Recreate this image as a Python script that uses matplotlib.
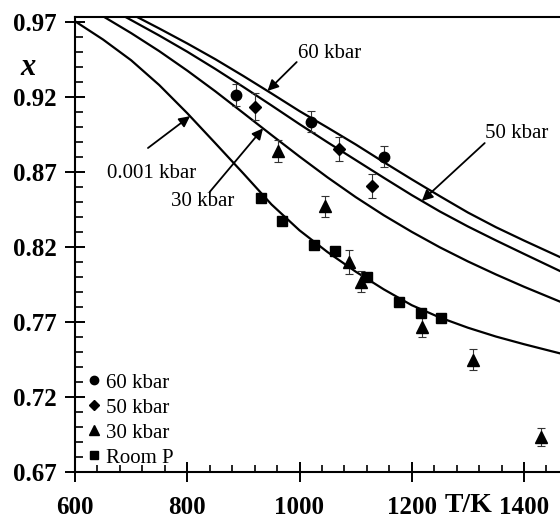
import numpy as np
import matplotlib
matplotlib.use("Agg")
import matplotlib.pyplot as plt
from matplotlib.ticker import MultipleLocator, FixedLocator

# model curves x(T) at four pressures
T_001 = [600, 650, 700, 750, 800, 850, 900, 950, 1000, 1050, 1100, 1150, 1200,
         1250, 1300, 1350, 1400, 1464]
x_001 = [0.9705, 0.9583, 0.9445, 0.928, 0.9092, 0.8892, 0.869, 0.8484, 0.8311,
         0.8166, 0.8036, 0.7918, 0.7812, 0.773, 0.7662, 0.7603, 0.7552, 0.7491]

T_30 = [640, 650, 700, 750, 800, 850, 900, 950, 1000, 1050, 1100, 1150, 1200,
        1250, 1300, 1350, 1400, 1464]
x_30 = [0.9759, 0.9738, 0.9626, 0.9506, 0.9376, 0.9238, 0.9093, 0.8947, 0.8803,
        0.8664, 0.8533, 0.8412, 0.8301, 0.8198, 0.8104, 0.8017, 0.7935, 0.7836]

T_50 = [680, 700, 750, 800, 850, 900, 950, 1000, 1050, 1100, 1150, 1200, 1250,
        1300, 1350, 1400, 1464]
x_50 = [0.9754, 0.9713, 0.961, 0.9502, 0.9387, 0.9267, 0.9144, 0.9019, 0.8898,
        0.878, 0.8662, 0.8546, 0.8437, 0.8337, 0.8244, 0.8154, 0.804]

T_60 = [700, 750, 800, 850, 900, 950, 1000, 1050, 1100, 1150, 1200, 1250, 1300,
        1350, 1400, 1464]
x_60 = [0.9754, 0.9657, 0.9557, 0.9452, 0.934, 0.9224, 0.9106, 0.8996, 0.8884,
        0.8766, 0.8651, 0.8539, 0.843, 0.8332, 0.8243, 0.8133]

# measurements
T_p60 = [887, 1021, 1151]
x_p60 = [0.9213, 0.9036, 0.8802]
e_p60 = [0.0075, 0.007, 0.007]

T_p50 = [921, 1070, 1130]
x_p50 = [0.9136, 0.8853, 0.8607]
e_p50 = [0.009, 0.008, 0.008]

T_p30 = [961, 1045, 1089, 1110, 1219, 1310, 1431]
x_p30 = [0.8838, 0.8472, 0.8102, 0.797, 0.767, 0.7447, 0.6935]
e_p30 = [0.0073, 0.007, 0.008, 0.007, 0.007, 0.007, 0.006]

T_room = [931, 969, 1025, 1063, 1121, 1177, 1216, 1253]
x_room = [0.8524, 0.8373, 0.8213, 0.8173, 0.8002, 0.7836, 0.7762, 0.7724]

SERIF = ["Liberation Serif", "DejaVu Serif"]
plt.rcParams["font.family"] = SERIF

W, H = 560, 519
fig = plt.figure(figsize=(W / 100, H / 100), dpi=100)
ax = fig.add_axes([75 / W, 1 - 472 / H, (W - 75) / W, (472 - 17) / H])

for T, x in [(T_001, x_001), (T_30, x_30), (T_50, x_50), (T_60, x_60)]:
    ax.plot(T, x, color="black", lw=1.6, solid_joinstyle="round")

err_kw = dict(ecolor="#333333", elinewidth=0.8, capsize=3, capthick=0.8, linestyle="none")
ax.errorbar(T_p60, x_p60, yerr=e_p60, marker="o", ms=7.5, mfc="black", mec="black", **err_kw)
ax.errorbar(T_p50, x_p50, yerr=e_p50, marker="D", ms=6.5, mfc="black", mec="black", **err_kw)
ax.errorbar(T_p30, x_p30, yerr=e_p30, marker="^", ms=8, mfc="black", mec="black", **err_kw)
ax.plot(T_room, x_room, "s", ms=7.5, color="black", linestyle="none")

ax.set_xlim(600, 600 + (W - 75) / 0.56125)
ax.set_ylim(0.67, 0.97 + 5 / 1500)

ax.xaxis.set_major_locator(FixedLocator([600, 800, 1000, 1200, 1400]))
ax.xaxis.set_minor_locator(MultipleLocator(40))
ax.yaxis.set_major_locator(FixedLocator([0.67, 0.72, 0.77, 0.82, 0.87, 0.92, 0.97]))
ax.yaxis.set_minor_locator(MultipleLocator(0.01))
ax.set_yticklabels(["0.67", "0.72", "0.77", "0.82", "0.87", "0.92", "0.97"])

ax.tick_params(which="major", direction="inout", length=14, width=1.4, labelsize=18)
ax.tick_params(which="minor", direction="in", length=6, width=1.2)
ax.tick_params(axis="x", which="major", pad=10)
ax.tick_params(axis="x", which="minor", length=5)
ax.tick_params(axis="y", which="major", pad=6)
for lab in ax.get_xticklabels() + ax.get_yticklabels():
    lab.set_fontweight("bold")

ax.spines["right"].set_visible(False)
for s in ["left", "bottom", "top"]:
    ax.spines[s].set_linewidth(1.5)

fig.text(28 / W, 1 - 67 / H, "x", fontsize=22, fontstyle="italic", fontweight="bold",
         ha="center", va="center")
ax.text(1302, (472 - 512) / 455, "T/K", transform=ax.get_xaxis_transform(), fontsize=20,
        fontweight="bold", ha="center", va="baseline")

# curve labels with arrows pointing onto each curve
arrow_kw = dict(arrowstyle="-|>", color="black", lw=1.3, mutation_scale=16,
                shrinkA=0, shrinkB=0)
labels = [
    ("0.001 kbar", (737, 0.8693), (730, 0.886), 805, T_001, x_001),
    ("30 kbar", (828, 0.850), (840, 0.8567), 935, T_30, x_30),
    ("60 kbar", (1053, 0.9493), (995, 0.9433), 943, T_60, x_60),
    ("50 kbar", (1387, 0.896), (1330, 0.8893), 1218, T_50, x_50),
]
for text, pos, tail, t_tip, Tc, xc in labels:
    ax.text(pos[0], pos[1], text, fontsize=15, ha="center", va="center")
    tip = (t_tip, np.interp(t_tip, Tc, xc))
    ax.annotate("", xy=tip, xytext=tail, arrowprops=arrow_kw)

handles = [
    plt.Line2D([], [], marker="o", ms=6, color="black", linestyle="none"),
    plt.Line2D([], [], marker="D", ms=5, color="black", linestyle="none"),
    plt.Line2D([], [], marker="^", ms=6.5, color="black", linestyle="none"),
    plt.Line2D([], [], marker="s", ms=6, color="black", linestyle="none"),
]
ax.legend(handles, ["60 kbar", "50 kbar", "30 kbar", "Room P"], loc="lower left",
          bbox_to_anchor=(0.0, -0.018), frameon=False, fontsize=15, handlelength=0.6,
          handletextpad=0.3, labelspacing=0.26, borderaxespad=0.2)

fig.savefig("out.png", dpi=100)
